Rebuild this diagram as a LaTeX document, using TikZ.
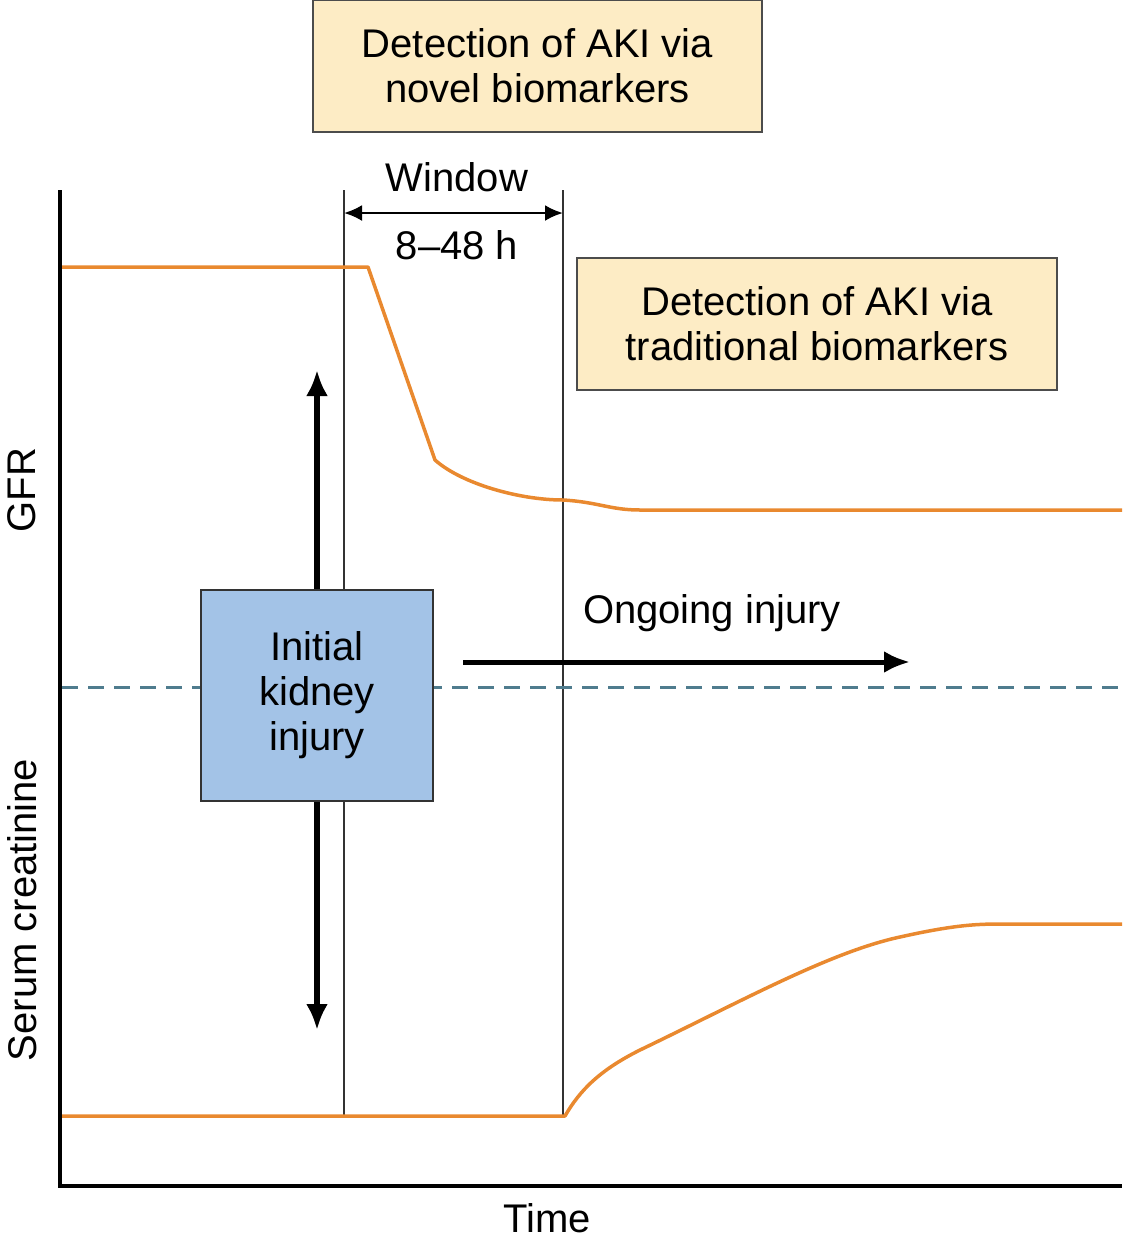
\documentclass[tikz,border=0pt]{standalone}
\usepackage{fontspec}
\setmainfont{Liberation Sans}
\usetikzlibrary{arrows.meta}
\definecolor{curveorange}{RGB}{233,137,47}
\definecolor{notefill}{RGB}{253,236,197}
\definecolor{injuryfill}{RGB}{163,195,231}
\definecolor{dashblue}{RGB}{79,124,142}
\tikzset{
  lbl/.style={font=\fontsize{40}{45}\selectfont, align=center},
  notebox/.style={lbl, draw=black!70, line width=2pt, fill=notefill, minimum height=132pt},
  curve/.style={curveorange, line width=3.5pt, line join=round},
  marker/.style={black!80, line width=2pt},
}
\begin{document}
\begin{tikzpicture}[x=1pt,y=-1pt,>={Latex[length=26pt,width=22pt]}]
	\useasboundingbox (0,0) rectangle (1134,1254);
	% time markers
	\coordinate (m1top) at (344,190);
	\coordinate (m1bot) at (344,1116);
	\coordinate (m2top) at (563,190);
	\coordinate (m2bot) at (563,1116);
	\draw[marker] (m1top) -- (m1bot);
	\draw[marker] (m2top) -- (m2bot);
	% dashed reference level
	\draw[dashblue, line width=3pt, dash pattern=on 16pt off 10pt] (62,687) -- (1122,687);
	% curves
	\draw[curve] (62,267) -- (368,267) -- (435,460) .. controls (462,484) and (520,500) .. (563,500)
		.. controls (598,502) and (610,510) .. (640,510) -- (1122,510);
	\draw[curve] (62,1116) -- (565,1116) .. controls (580,1090) and (600,1070) .. (640,1050)
		.. controls (740,1002) and (830,952) .. (900,937) .. controls (958,924) and (980,924) .. (1005,924) -- (1122,924);
	% axes
	\coordinate (origin) at (60,1186);
	\draw[line width=4pt] (60,190) -- (origin) -- (1122,1186);
	\node[lbl, rotate=90] (gfr) at (22,490) {GFR};
	\node[lbl, rotate=90] (creat) at (22,910) {Serum creatinine};
	\node[lbl] (time) at (547,1218) {Time};
	% window
	\draw[<->, line width=2.5pt, >={Latex[length=18pt,width=16pt]}] (m1top |- 0,213) -- (m2top |- 0,213);
	\node[lbl] (window) at (457,177) {Window};
	\node[lbl] (hours) at (457,245) {8–48 h};
	% detection boxes
	\node[notebox, minimum width=449pt] (novel) at (537.5,66) {Detection of AKI via\\novel biomarkers};
	\node[notebox, minimum width=480pt] (trad) at (817,324) {Detection of AKI via\\traditional biomarkers};
	% injury
	\node[lbl, draw=black!80, line width=2pt, fill=injuryfill, minimum width=232pt, minimum height=211pt] (injury) at (317,695.5) {Initial\\kidney\\injury};
	\coordinate (gfrtip) at (317,370);
	\coordinate (creattip) at (317,1030);
	\draw[->, line width=6pt] (injury.north) -- (gfrtip);
	\draw[->, line width=6pt] (injury.south) -- (creattip);
	\coordinate (ongoingstart) at (463,662);
	\coordinate (ongoingend) at (910,662);
	\draw[->, line width=5pt] (ongoingstart) -- (ongoingend);
	\node[lbl] (ongoing) at (712,613) {Ongoing injury};
\end{tikzpicture}
\end{document}
